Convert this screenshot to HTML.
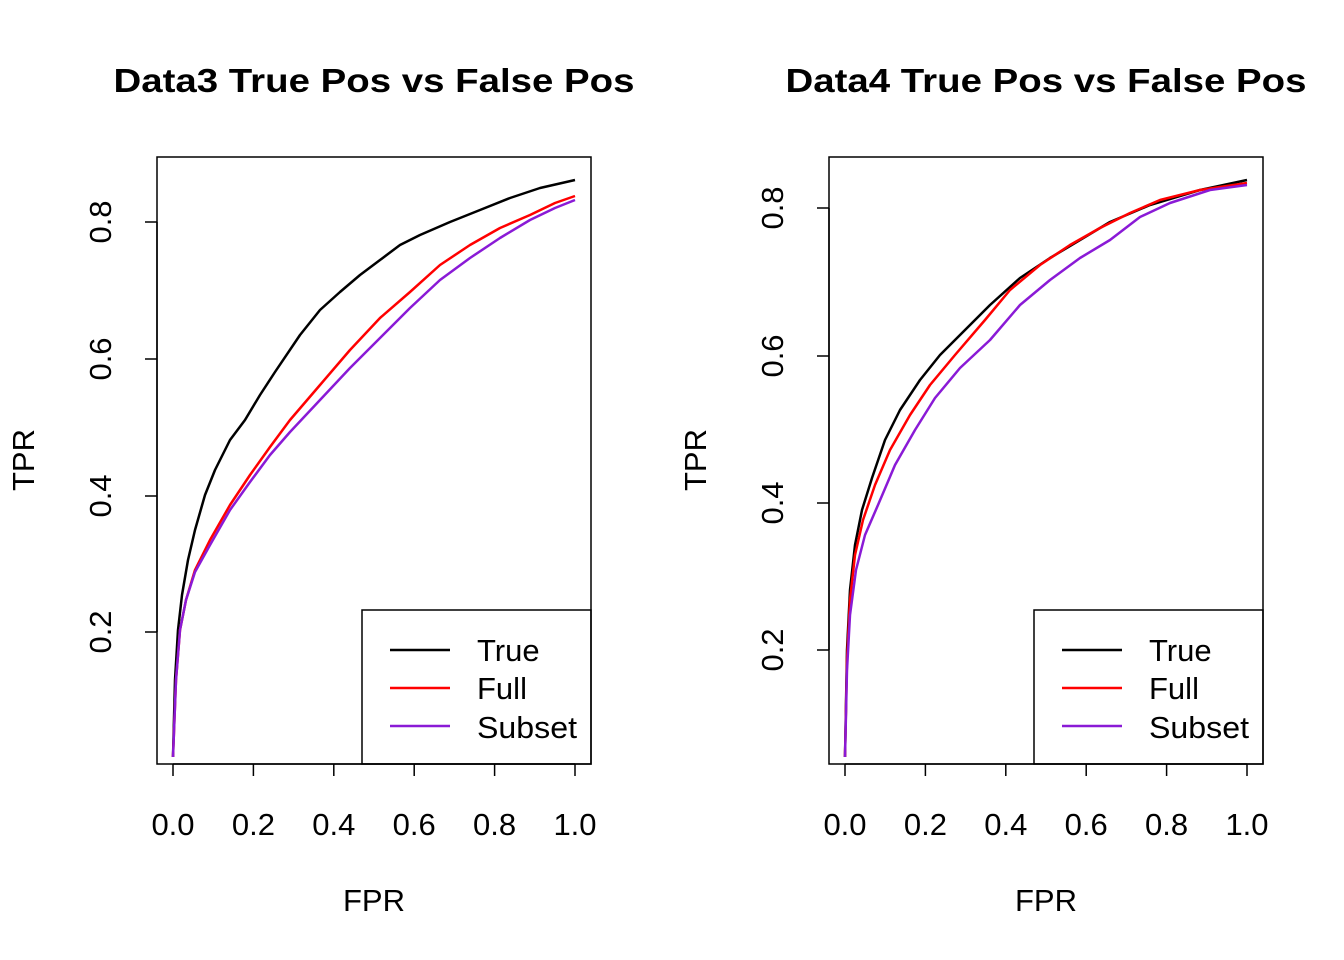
<!DOCTYPE html>
<html><head><meta charset="utf-8"><style>body{margin:0;background:#fff}svg{display:block}</style></head><body>
<svg width="1344" height="960" xmlns="http://www.w3.org/2000/svg" font-family="Liberation Sans, Arial, sans-serif">
<rect width="1344" height="960" fill="#fff"/>
<g fill="#000">
<text x="374" y="92" font-size="33" font-weight="bold" text-anchor="middle" textLength="521" lengthAdjust="spacingAndGlyphs">Data3 True Pos vs False Pos</text>
<text x="1046" y="92" font-size="33" font-weight="bold" text-anchor="middle" textLength="521" lengthAdjust="spacingAndGlyphs">Data4 True Pos vs False Pos</text>
<text x="374" y="911" font-size="31" text-anchor="middle">FPR</text>
<text x="1046" y="911" font-size="31" text-anchor="middle">FPR</text>
<text transform="translate(34,460) rotate(-90)" font-size="31" text-anchor="middle">TPR</text>
<text transform="translate(706,460) rotate(-90)" font-size="31" text-anchor="middle">TPR</text>
</g>
<g fill="none" stroke="#000" stroke-width="1.5">
<rect x="157" y="157" width="434" height="607"/>
<rect x="829" y="157" width="434" height="607"/>
<path d="M173,764H575M173,764v12M253.4,764v12M333.8,764v12M414.2,764v12M494.6,764v12M575,764v12"/>
<path d="M845,764H1247M845,764v12M925.4,764v12M1005.8,764v12M1086.2,764v12M1166.6,764v12M1247,764v12"/>
<path d="M157,632V222M157,632h-12M157,496h-12M157,359h-12M157,222h-12"/>
<path d="M829,650V208M829,650h-12M829,503h-12M829,356h-12M829,208h-12"/>
<rect x="362" y="610" width="229" height="154"/>
<rect x="1034" y="610" width="229" height="154"/>
</g>
<g font-size="31" fill="#000" text-anchor="middle">
<text x="173" y="835">0.0</text><text x="253.4" y="835">0.2</text><text x="333.8" y="835">0.4</text><text x="414.2" y="835">0.6</text><text x="494.6" y="835">0.8</text><text x="575" y="835">1.0</text>
<text x="845" y="835">0.0</text><text x="925.4" y="835">0.2</text><text x="1005.8" y="835">0.4</text><text x="1086.2" y="835">0.6</text><text x="1166.6" y="835">0.8</text><text x="1247" y="835">1.0</text>
<text transform="translate(111,632) rotate(-90)">0.2</text><text transform="translate(111,496) rotate(-90)">0.4</text><text transform="translate(111,359) rotate(-90)">0.6</text><text transform="translate(111,222) rotate(-90)">0.8</text>
<text transform="translate(783,650) rotate(-90)">0.2</text><text transform="translate(783,503) rotate(-90)">0.4</text><text transform="translate(783,356) rotate(-90)">0.6</text><text transform="translate(783,208) rotate(-90)">0.8</text>
</g>
<g fill="none" stroke-width="2.5" stroke-linejoin="round">
<polyline stroke="#000" points="173,757 175,680 178,630 182,595 188,560 195,530 205,495 215,470 230,440 245,420 260,395 275,372 300,335 320,310 340,292 360,275 380,260 400,245 420,235 450,222 480,210 510,198 540,188 575,180"/>
<polyline stroke="#ff0000" points="173,757 176,680 180,630 186,600 195,570 210,540 230,505 250,475 270,447 290,420 320,385 350,350 380,318 410,292 440,265 470,245 500,228 530,215 555,203 575,196"/>
<polyline stroke="#8a1ad6" points="173,757 176,680 180,630 186,600 195,572 210,545 230,510 250,482 270,455 290,432 320,400 350,368 380,338 410,308 440,280 470,258 500,238 530,220 555,208 575,200"/>
<polyline stroke="#000" points="845,757 847,650 850,590 855,545 862,510 872,478 885,440 900,410 920,380 940,355 960,335 990,305 1020,278 1050,258 1080,240 1110,222 1150,205 1200,190 1247,180"/>
<polyline stroke="#ff0000" points="845,757 847,660 850,600 855,555 863,520 875,485 890,450 910,415 930,385 955,355 985,320 1010,290 1040,265 1070,245 1100,228 1130,213 1160,200 1200,190 1247,183"/>
<polyline stroke="#8a1ad6" points="845,757 847,670 850,615 856,570 865,535 878,505 895,465 915,430 935,398 960,368 990,340 1020,305 1050,280 1080,258 1110,240 1140,217 1170,203 1210,190 1247,185"/>
<path stroke="#000" d="M390,650h60M1062,650h60"/>
<path stroke="#ff0000" d="M390,688h60M1062,688h60"/>
<path stroke="#8a1ad6" d="M390,726h60M1062,726h60"/>
</g>
<g font-size="31" fill="#000">
<text x="477" y="661">True</text><text x="477" y="699">Full</text><text x="477" y="738" textLength="100" lengthAdjust="spacingAndGlyphs">Subset</text>
<text x="1149" y="661">True</text><text x="1149" y="699">Full</text><text x="1149" y="738" textLength="100" lengthAdjust="spacingAndGlyphs">Subset</text>
</g>
</svg>
</body></html>
